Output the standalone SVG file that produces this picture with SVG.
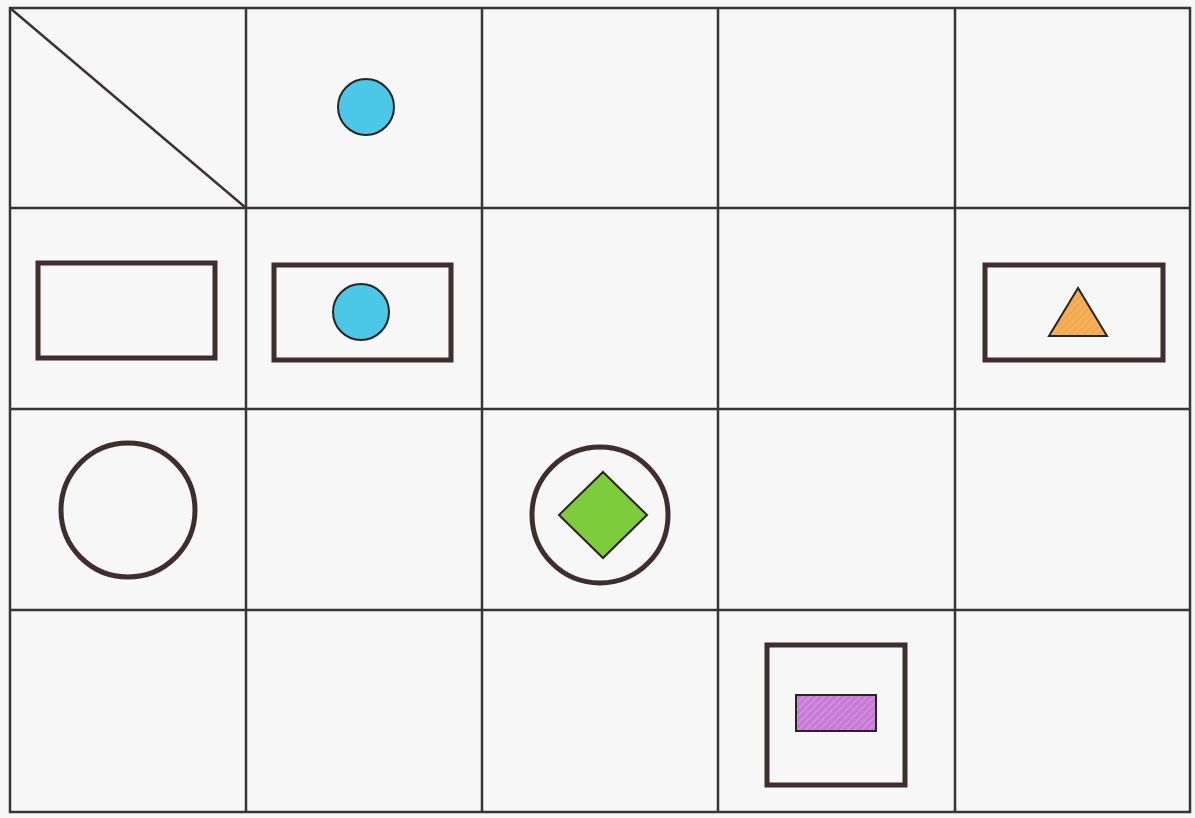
<svg xmlns="http://www.w3.org/2000/svg" width="1195" height="818" viewBox="0 0 1195 818">
<style>
.grid{stroke:#3a3434;stroke-width:2.5;fill:none}
.frame{stroke:#3f2e2e;stroke-width:5;fill:none}
.thin{stroke:#2a2424;stroke-width:2}
</style>
<defs>
<pattern id="hOrange" patternUnits="userSpaceOnUse" width="5" height="5" patternTransform="rotate(45)">
<rect width="5" height="5" fill="#f5a94e"/><line x1="0" y1="0" x2="0" y2="5" stroke="#f0c080" stroke-width="1.5"/>
</pattern>
<pattern id="hPurple" patternUnits="userSpaceOnUse" width="5" height="5" patternTransform="rotate(45)">
<rect width="5" height="5" fill="#c77ad6"/><line x1="0" y1="0" x2="0" y2="5" stroke="#dca6e6" stroke-width="1.5"/>
</pattern>
</defs>
<rect width="1195" height="818" fill="#f7f7f7"/>
<g id="grid">
<rect class="grid" x="10" y="8" width="1180" height="804"/>
<line class="grid" x1="246" y1="8" x2="246" y2="812"/>
<line class="grid" x1="482" y1="8" x2="482" y2="812"/>
<line class="grid" x1="718" y1="8" x2="718" y2="812"/>
<line class="grid" x1="955" y1="8" x2="955" y2="812"/>
<line class="grid" x1="10" y1="208" x2="1190" y2="208"/>
<line class="grid" x1="10" y1="409" x2="1190" y2="409"/>
<line class="grid" x1="10" y1="610" x2="1190" y2="610"/>
<line class="grid" x1="10" y1="8" x2="246" y2="208"/>
</g>
<g id="blue-circle-top">
<circle class="thin" cx="366" cy="107" r="28" fill="#4cc7e6"/>
</g>
<g id="empty-rect">
<rect class="frame" x="38" y="263" width="177" height="95"/>
</g>
<g id="rect-with-circle">
<rect class="frame" x="274" y="265" width="177" height="95"/>
<circle class="thin" cx="361" cy="312" r="28" fill="#4cc7e6"/>
</g>
<g id="rect-with-triangle">
<rect class="frame" x="985" y="265" width="178" height="95"/>
<polygon class="thin" points="1078,288 1049,336 1107,336" fill="url(#hOrange)"/>
</g>
<g id="empty-circle">
<circle class="frame" cx="128" cy="510" r="67"/>
</g>
<g id="circle-with-diamond">
<circle class="frame" cx="600" cy="515" r="68"/>
<polygon class="thin" points="603,472 647,515 603,558 559,515" fill="#7dcc3c"/>
</g>
<g id="square-with-rect">
<rect class="frame" x="767" y="645" width="138" height="140"/>
<rect class="thin" x="796" y="695" width="80" height="36" fill="url(#hPurple)"/>
</g>
</svg>
